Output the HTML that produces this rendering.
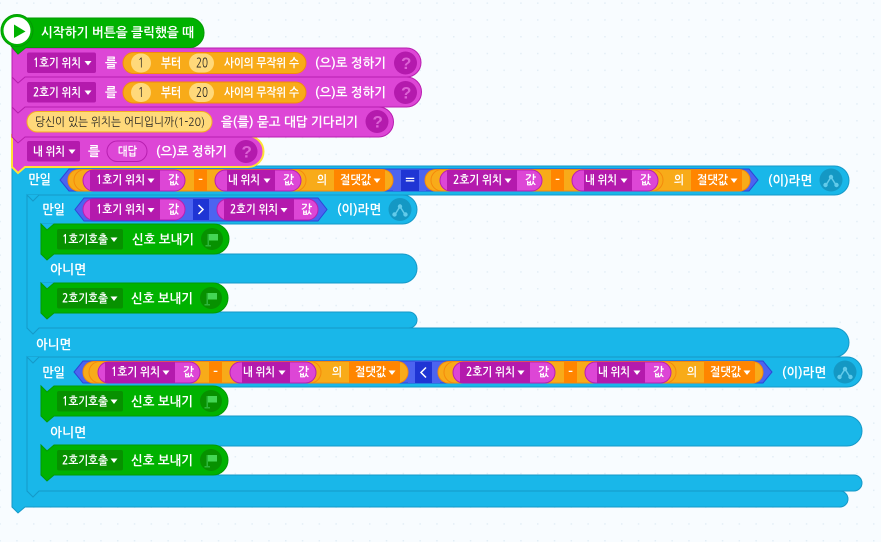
<!DOCTYPE html>
<html lang="ko"><head><meta charset="utf-8"><style>
html,body{margin:0;padding:0;background:#f8fcff}
svg{display:block}
text{font-family:"NanumGothic","Liberation Sans","Noto Sans CJK KR",sans-serif;fill:#fff;font-size:12px;font-weight:700}
.k{fill:#222;font-weight:400}
.n{fill:#222;font-weight:400;font-size:13px}
.m{font-size:13px}
.qm{font-family:"Liberation Sans",sans-serif;font-size:17px;fill:#dd63d6}
.p{fill:#dd46d6;stroke:#b81fb0;stroke-width:1}
.c{fill:#19b7e9;stroke:#1599c8;stroke-width:1}
.g{fill:#00b200;stroke:#039a03;stroke-width:1}
.d{fill:#b41aad}
.o{fill:#f8ab19;stroke:#f58a0c}
.h{fill:#4c64f0;stroke:#2d46d6}
</style></head><body>
<svg xmlns="http://www.w3.org/2000/svg" width="881" height="542" viewBox="0 0 881 542">
<defs>
<pattern id="dots" width="16.8" height="16.8" patternUnits="userSpaceOnUse" patternTransform="translate(-0.6 2.4)"><rect x="0" y="0" width="1.5" height="1.5" fill="#e3eef6"/></pattern>
<path id="arrow" d="M-3.5 -2H3.5L0 2.5Z" fill="#fff"/>
<g id="pillShape">
<rect x="83" y="170" width="102" height="21" rx="10.5" class="p"/>
<path d="M90 170H160V191H90Z" class="d"/>
</g>
<g id="absShape">
<rect x="68" y="169.500" width="325" height="21.500" rx="10.700" class="o"/>
<rect x="74" y="169.500" width="232" height="21.500" rx="10.700" class="o"/>
<rect x="194" y="170" width="13" height="21" fill="#ff8500"/>
<use href="#pillShape"/>
<rect x="215" y="170" width="86" height="21" rx="10.500" class="p"/>
<path d="M227 170H275V191H227Z" class="d"/>
<rect x="334" y="170" width="51" height="21" fill="#ff8500"/>
<use href="#arrow" x="377" y="180.500"/>
<use href="#arrow" x="151" y="180.500"/>
<use href="#arrow" x="267" y="180.500"/>
</g>
<g id="flag"><circle r="11" fill="#079100"/><path d="M-3.500 -5H6V1.500H-3.500Z" fill="#44d655"/><path d="M-4.500 -5H-3V6H-1V7.500H-6.500V6H-4.500Z" fill="#2cb53a"/></g>
<g id="branch"><circle r="11.500" fill="#1498c4"/><path d="M-5 5L0 -3L5 5" fill="none" stroke="#62cbea" stroke-width="1.500"/><circle cy="-3" r="2.200" fill="#62cbea"/><circle cx="-5.500" cy="5" r="2.200" fill="#62cbea"/><circle cx="5.500" cy="5" r="2.200" fill="#62cbea"/></g>
<g id="q"><circle r="11.500" fill="#b41aad"/></g>
<g id="greenShape">
<path d="M41 224L47 230L54 224Z" fill="#19b7e9"/>
<path d="M41 224L47 230L54 224H214A15 15 0 0 1 214 254H54L47 260L41 254Z" class="g"/>
<rect x="57" y="229" width="66" height="20.500" rx="2" fill="#079100"/>
<use href="#arrow" x="114" y="239.500"/>
</g>
<g id="greenShape2">
<path d="M41 224L47 230L54 224Z" fill="#19b7e9"/>
<path d="M41 224L47 230L54 224H213A15 15 0 0 1 213 254H54L47 260L41 254Z" class="g"/>
<rect x="57" y="229" width="66" height="20.500" rx="2" fill="#079100"/>
<use href="#arrow" x="114" y="239.500"/>
</g>
</defs>
<rect width="881" height="542" fill="#f8fcff"/>
<rect width="881" height="542" fill="url(#dots)"/>

<!-- outer if -->
<path class="c" d="M12 166H834.500A14.500 14.500 0 0 1 834.500 195H27V328H834.500A14.500 14.500 0 0 1 834.500 357H27V491H840A8 8 0 0 1 840 507H25L18 513L12 507Z"/>
<path d="M27 195L33 201L39 195Z M27 357L33 363L39 357Z" fill="#19b7e9"/>
<!-- inner if 2 -->
<path d="M27 357L33 363L39 357Z" fill="#19b7e9"/>
<path class="c" d="M27 357L33 363L39 357H847A15 15 0 0 1 847 387H41V416H847A15 15 0 0 1 847 446H41V475H854A8 8 0 0 1 854 491H39L33 497L27 491Z"/>
<!-- inner if 1 -->
<path d="M27 195L33 201L39 195Z" fill="#19b7e9"/>
<path class="c" d="M27 195L33 201L39 195H402.500A14.500 14.500 0 0 1 402.500 224H41V254H402.500A14.500 14.500 0 0 1 402.500 283H41V312H409A8 8 0 0 1 409 328H39L33 334L27 328Z"/>

<!-- green blocks -->
<use href="#greenShape"/>
<use href="#flag" x="212" y="239"/>
<text x="62" y="243.500" textLength="46" lengthAdjust="spacingAndGlyphs">1호기호출</text>
<text x="132" y="244" class="m" textLength="62" lengthAdjust="spacingAndGlyphs">신호 보내기</text>
<use href="#greenShape2" y="59"/>
<use href="#flag" x="211" y="298"/>
<text x="62" y="302.500" textLength="46" lengthAdjust="spacingAndGlyphs">2호기호출</text>
<text x="131" y="303" class="m" textLength="62" lengthAdjust="spacingAndGlyphs">신호 보내기</text>
<use href="#greenShape2" y="162"/>
<use href="#flag" x="211" y="401"/>
<text x="62" y="405.500" textLength="46" lengthAdjust="spacingAndGlyphs">1호기호출</text>
<text x="131" y="406" class="m" textLength="62" lengthAdjust="spacingAndGlyphs">신호 보내기</text>
<use href="#greenShape2" y="221"/>
<use href="#flag" x="211" y="460"/>
<text x="62" y="464.500" textLength="46" lengthAdjust="spacingAndGlyphs">2호기호출</text>
<text x="131" y="465" class="m" textLength="62" lengthAdjust="spacingAndGlyphs">신호 보내기</text>

<!-- if labels -->
<text x="28" y="184" class="m" textLength="23" lengthAdjust="spacingAndGlyphs">만일</text>
<text x="42" y="214" class="m" textLength="23" lengthAdjust="spacingAndGlyphs">만일</text>
<text x="42" y="377" class="m" textLength="23" lengthAdjust="spacingAndGlyphs">만일</text>
<text x="50" y="274" class="m" textLength="36" lengthAdjust="spacingAndGlyphs">아니면</text>
<text x="36" y="349" class="m" textLength="35" lengthAdjust="spacingAndGlyphs">아니면</text>
<text x="50" y="437" class="m" textLength="36" lengthAdjust="spacingAndGlyphs">아니면</text>
<text x="768" y="185" class="m" textLength="44" lengthAdjust="spacingAndGlyphs">(이)라면</text>
<text x="337" y="214" class="m" textLength="44" lengthAdjust="spacingAndGlyphs">(이)라면</text>
<text x="782" y="377" class="m" textLength="44" lengthAdjust="spacingAndGlyphs">(이)라면</text>
<use href="#branch" x="831" y="180"/>
<use href="#branch" x="400" y="209.500"/>
<use href="#branch" x="845" y="372"/>

<!-- condition 1 -->
<path class="h" d="M69 169H749L758 180L749 191H69L60 180Z"/>
<rect x="393" y="170" width="33" height="21" fill="#4c64f0"/>
<rect x="401" y="170" width="18" height="21" fill="#1f35d4"/>
<text x="405" y="184" textLength="10" lengthAdjust="spacingAndGlyphs">=</text>
<use href="#absShape"/>
<use href="#absShape" x="357"/>
<text x="96" y="184" textLength="49" lengthAdjust="spacingAndGlyphs">1호기 위치</text>
<text x="168" y="184" textLength="11" lengthAdjust="spacingAndGlyphs">값</text>
<text x="198" y="184" textLength="5" lengthAdjust="spacingAndGlyphs">-</text>
<text x="228" y="184" textLength="32" lengthAdjust="spacingAndGlyphs">내 위치</text>
<text x="283" y="184" textLength="11" lengthAdjust="spacingAndGlyphs">값</text>
<text x="317" y="184" textLength="10" lengthAdjust="spacingAndGlyphs">의</text>
<text x="340" y="184" textLength="31" lengthAdjust="spacingAndGlyphs">절댓값</text>
<text x="453" y="184" textLength="49" lengthAdjust="spacingAndGlyphs">2호기 위치</text>
<text x="525" y="184" textLength="11" lengthAdjust="spacingAndGlyphs">값</text>
<text x="555" y="184" textLength="5" lengthAdjust="spacingAndGlyphs">-</text>
<text x="585" y="184" textLength="32" lengthAdjust="spacingAndGlyphs">내 위치</text>
<text x="640" y="184" textLength="11" lengthAdjust="spacingAndGlyphs">값</text>
<text x="674" y="184" textLength="10" lengthAdjust="spacingAndGlyphs">의</text>
<text x="697" y="184" textLength="31" lengthAdjust="spacingAndGlyphs">절댓값</text>

<!-- condition inner 1 -->
<path class="h" d="M84 198H318L327 209.500L318 221H84L75 209.500Z"/>
<use href="#pillShape" y="29"/>
<use href="#arrow" x="151" y="210"/>
<rect x="193" y="199" width="16" height="21" fill="#1f35d4"/>
<path d="M198.500 205L203 209.500L198.500 214" fill="none" stroke="#fff" stroke-width="1.500"/>
<rect x="217" y="199" width="101" height="21" rx="10.500" class="p"/>
<path d="M224 199H294V220H224Z" class="d"/>
<use href="#arrow" x="284" y="210"/>
<text x="96" y="213.500" textLength="49" lengthAdjust="spacingAndGlyphs">1호기 위치</text>
<text x="168" y="213.500" textLength="11" lengthAdjust="spacingAndGlyphs">값</text>
<text x="230" y="213.500" textLength="48" lengthAdjust="spacingAndGlyphs">2호기 위치</text>
<text x="301" y="213.500" textLength="11" lengthAdjust="spacingAndGlyphs">값</text>

<!-- condition 2 -->
<path class="h" d="M83 361H763L772 372L763 383H83L74 372Z"/>
<rect x="408" y="362" width="32" height="21" fill="#4c64f0"/>
<rect x="415" y="362" width="17" height="21" fill="#1f35d4"/>
<path d="M426 367.500L421 372.500L426 377.500" fill="none" stroke="#fff" stroke-width="1.500"/>
<use href="#absShape" x="15" y="192"/>
<use href="#absShape" x="370" y="192"/>
<text x="111" y="376" textLength="49" lengthAdjust="spacingAndGlyphs">1호기 위치</text>
<text x="183" y="376" textLength="11" lengthAdjust="spacingAndGlyphs">값</text>
<text x="213" y="376" textLength="5" lengthAdjust="spacingAndGlyphs">-</text>
<text x="243" y="376" textLength="32" lengthAdjust="spacingAndGlyphs">내 위치</text>
<text x="298" y="376" textLength="11" lengthAdjust="spacingAndGlyphs">값</text>
<text x="332" y="376" textLength="10" lengthAdjust="spacingAndGlyphs">의</text>
<text x="355" y="376" textLength="31" lengthAdjust="spacingAndGlyphs">절댓값</text>
<text x="466" y="376" textLength="49" lengthAdjust="spacingAndGlyphs">2호기 위치</text>
<text x="538" y="376" textLength="11" lengthAdjust="spacingAndGlyphs">값</text>
<text x="568" y="376" textLength="5" lengthAdjust="spacingAndGlyphs">-</text>
<text x="598" y="376" textLength="32" lengthAdjust="spacingAndGlyphs">내 위치</text>
<text x="653" y="376" textLength="11" lengthAdjust="spacingAndGlyphs">값</text>
<text x="687" y="376" textLength="10" lengthAdjust="spacingAndGlyphs">의</text>
<text x="710" y="376" textLength="31" lengthAdjust="spacingAndGlyphs">절댓값</text>

<!-- purple stack, bottom-up -->
<path d="M12 136L18 142L25 136H248A15.500 15.500 0 0 1 248 167H25L18 173L12 167Z" fill="#dd46d6" stroke="#ffe135" stroke-width="2"/>
<rect x="27" y="141" width="53" height="20.500" rx="2" class="d"/>
<text x="33" y="155.500" textLength="32" lengthAdjust="spacingAndGlyphs">내 위치</text>
<use href="#arrow" x="72" y="151.500"/>
<text x="88" y="156" class="m" textLength="12" lengthAdjust="spacingAndGlyphs">를</text>
<rect x="107" y="141" width="40" height="20.500" rx="10.200" class="p"/>
<text x="118" y="155.500" textLength="19" lengthAdjust="spacingAndGlyphs">대답</text>
<text x="156" y="156" class="m" textLength="71" lengthAdjust="spacingAndGlyphs">(으)로 정하기</text>
<use href="#q" x="246" y="151.500"/>
<text x="241.500" y="157.500" class="qm">?</text>

<path class="p" d="M12 107L18 113L25 107H378.500A15 15 0 0 1 378.500 137H25L18 143L12 137Z"/>
<rect x="27" y="111.500" width="185" height="20.500" rx="10.200" fill="#ffd97a" stroke="#f5b020"/>
<text class="k" x="35" y="126" textLength="170" lengthAdjust="spacingAndGlyphs">당신이 있는 위치는 어디입니까(1-20)</text>
<text x="221" y="126.500" class="m" textLength="137" lengthAdjust="spacingAndGlyphs">을(를) 묻고 대답 기다리기</text>
<use href="#q" x="377" y="121.500"/>
<text x="372.500" y="127.500" class="qm">?</text>

<path class="p" d="M12 77L18 83L25 77H406.500A15 15 0 0 1 406.500 107H25L18 113L12 107Z"/>
<rect x="27" y="82" width="69" height="20.500" rx="2" class="d"/>
<text x="33" y="96.500" textLength="48" lengthAdjust="spacingAndGlyphs">2호기 위치</text>
<use href="#arrow" x="88" y="92.500"/>
<text x="105" y="97" class="m" textLength="12" lengthAdjust="spacingAndGlyphs">를</text>
<rect x="123" y="82" width="183" height="21" rx="10.500" class="o"/>
<rect x="131" y="83" width="20" height="19" rx="9.500" fill="#ffd97a"/>
<text class="n" x="138" y="97" textLength="6" lengthAdjust="spacingAndGlyphs">1</text>
<text x="161" y="97" class="m" textLength="20" lengthAdjust="spacingAndGlyphs">부터</text>
<rect x="189" y="83" width="25" height="19" rx="9.500" fill="#ffd97a"/>
<text class="n" x="196" y="97" textLength="12" lengthAdjust="spacingAndGlyphs">20</text>
<text x="224" y="96.500" textLength="75" lengthAdjust="spacingAndGlyphs">사이의 무작위 수</text>
<text x="315" y="97" class="m" textLength="71" lengthAdjust="spacingAndGlyphs">(으)로 정하기</text>
<use href="#q" x="405.500" y="92.500"/>
<text x="401" y="98.500" class="qm">?</text>

<path class="p" d="M12 48L18 54L25 48H406.500A14.500 14.500 0 0 1 406.500 77H25L18 83L12 77Z"/>
<rect x="27" y="52.500" width="69" height="20.500" rx="2" class="d"/>
<text x="33" y="67" textLength="48" lengthAdjust="spacingAndGlyphs">1호기 위치</text>
<use href="#arrow" x="88" y="63"/>
<text x="105" y="67.500" class="m" textLength="12" lengthAdjust="spacingAndGlyphs">를</text>
<rect x="123" y="52.500" width="183" height="21" rx="10.500" class="o"/>
<rect x="131" y="53.500" width="20" height="19" rx="9.500" fill="#ffd97a"/>
<text class="n" x="138" y="67.500" textLength="6" lengthAdjust="spacingAndGlyphs">1</text>
<text x="161" y="67.500" class="m" textLength="20" lengthAdjust="spacingAndGlyphs">부터</text>
<rect x="189" y="53.500" width="25" height="19" rx="9.500" fill="#ffd97a"/>
<text class="n" x="196" y="67.500" textLength="12" lengthAdjust="spacingAndGlyphs">20</text>
<text x="224" y="67" textLength="75" lengthAdjust="spacingAndGlyphs">사이의 무작위 수</text>
<text x="315" y="67.500" class="m" textLength="71" lengthAdjust="spacingAndGlyphs">(으)로 정하기</text>
<use href="#q" x="405.500" y="63"/>
<text x="401" y="69" class="qm">?</text>

<!-- hat -->
<path class="g" d="M17 18H190A14 14.700 0 0 1 190 47.500H26L18 54L11 46Z"/>
<circle cx="17" cy="30.500" r="16" fill="#00b200" stroke="#039a03"/>
<circle cx="17" cy="30.500" r="13.500" fill="#fff"/>
<path d="M14 24.500L25.500 31.500L14 38Z" fill="#00b200"/>
<text x="41" y="37" class="m" textLength="153" lengthAdjust="spacingAndGlyphs">시작하기 버튼을 클릭했을 때</text>
</svg>
</body></html>
